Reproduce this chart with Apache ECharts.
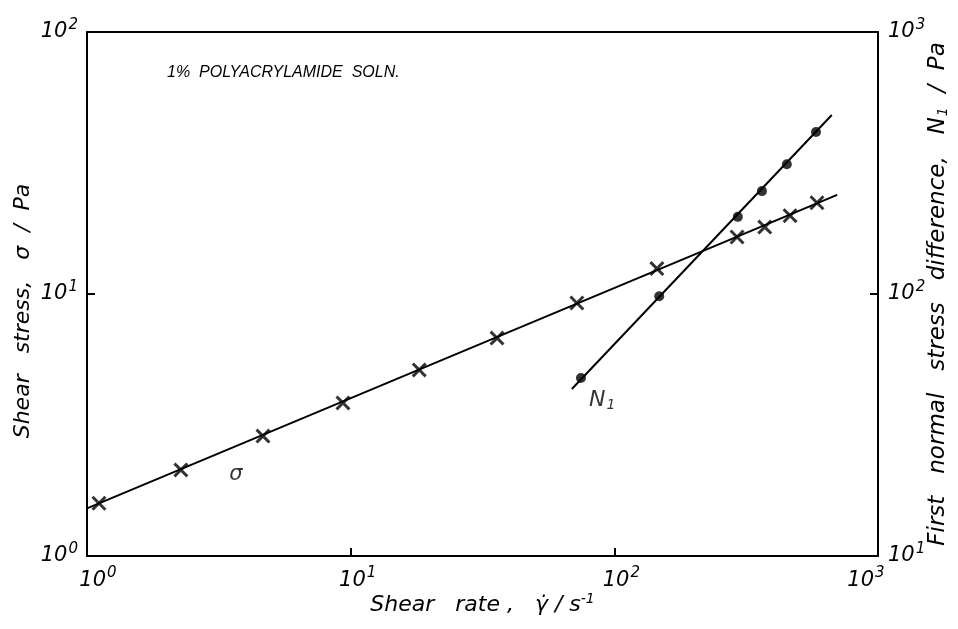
<!DOCTYPE html>
<html>
<head>
<meta charset="utf-8">
<script src="https://cdn.jsdelivr.net/npm/echarts@6/dist/echarts.min.js"></script>
<style>html,body{margin:0;padding:0;background:#fff}#c{width:958px;height:629px}</style>
</head>
<body>
<div id="c"></div>
<script>
// Shear stress data (crosses)
var sigmaRate = [1.11, 2.27, 4.65, 9.35, 18.2, 35.9, 72.1, 145, 292, 372, 464, 587];
var sigmaVal  = [1.59, 2.13, 2.87, 3.84, 5.13, 6.79, 9.24, 12.5, 16.5, 18.0, 19.9, 22.3];
// First normal stress difference data (dots)
var n1Rate = [74.7, 148, 294, 363, 451, 582];
var n1Val  = [47.8, 98, 197, 247, 313, 415];
// Fitted lines
var sigmaFitRate = [1, 700];
var sigmaFitVal  = [1.52, 23.9];
var n1FitRate = [69, 668];
var n1FitVal  = [43.4, 482];
// Axis ranges
var xRange = [1, 1000];
var yLeftRange = [1, 100];
var yRightRange = [10, 1000];
// Annotation anchors (data coordinates)
var sigmaLabelAt = [3.67, 2.04];
var n1LabelAt = [90, 39.4];

var FONT = 'DejaVu Sans';
function pow10Label(v) {
  var e = Math.round(Math.log10(v));
  return '{a|10}{s|' + e + '}';
}
function pow10LabelX(v) {
  var e = Math.round(Math.log10(v));
  if (e === 0) return '{a0|10}{s|' + e + '}';
  if (e === 3) return '{a|10}{s3|' + e + '}';
  return '{a1|10}{s|' + e + '}';
}
var base = {fontStyle: 'italic', fontFamily: FONT, color: '#000'};
function st(o) { return Object.assign({}, base, o); }
var richPow = {
  a: st({fontSize: 21}),
  a0: st({fontSize: 21, padding: [0, 0, 0, 22]}),
  a1: st({fontSize: 21, padding: [0, 0, 0, 14]}),
  s: st({fontSize: 15, padding: [0, 0, 14, 1]}),
  s3: st({fontSize: 15, padding: [0, 24, 14, 1]})
};
function zip(a, b) { return a.map(function (v, i) { return [v, b[i]]; }); }
var xSym = 'path://M0,1.4L1.4,0L5,3.6L8.6,0L10,1.4L6.4,5L10,8.6L8.6,10L5,6.4L1.4,10L0,8.6L3.6,5Z';
var nameStyle = st({fontSize: 22});

var chart = echarts.init(document.getElementById('c'), null, {renderer: 'canvas'});
chart.setOption({
  animation: false,
  backgroundColor: '#fff',
  title: {
    text: '1%  POLYACRYLAMIDE  SOLN.',
    left: 162, top: 60,
    textStyle: {fontSize: 16, fontStyle: 'italic', fontWeight: 'normal', fontFamily: 'Liberation Sans', color: '#000'}
  },
  grid: {left: 87, right: 80, top: 32, bottom: 73, outerBoundsMode: 'none', containLabel: false},
  xAxis: [{
    type: 'log', logBase: 10, min: xRange[0], max: xRange[1],
    axisLine: {show: true, lineStyle: {color: '#000', width: 2}},
    axisTick: {show: true, inside: true, length: 8, lineStyle: {color: '#000', width: 2}},
    splitLine: {show: false},
    axisLabel: {formatter: pow10LabelX, rich: richPow, margin: 10, showMinLabel: true, showMaxLabel: true},
    name: '{t|Shear   rate ,   γ̇ / s}{s|-1}',
    nameLocation: 'middle', nameGap: 36, nameMoveOverlap: false,
    nameTextStyle: {rich: {
      t: nameStyle,
      s: st({fontSize: 14, padding: [0, 0, 12, 0]})
    }}
  }, {
    type: 'log', logBase: 10, min: xRange[0], max: xRange[1], position: 'top',
    axisLine: {show: true, lineStyle: {color: '#000', width: 2}},
    axisTick: {show: false}, axisLabel: {show: false}, splitLine: {show: false}
  }],
  yAxis: [{
    type: 'log', logBase: 10, min: yLeftRange[0], max: yLeftRange[1],
    axisLine: {show: true, lineStyle: {color: '#000', width: 2}},
    axisTick: {show: true, inside: true, length: 8, lineStyle: {color: '#000', width: 2}},
    splitLine: {show: false},
    axisLabel: {formatter: pow10Label, rich: richPow, margin: 9},
    name: 'Shear   stress,   σ  /  Pa', nameLocation: 'middle', nameGap: 53, nameRotate: 90, nameMoveOverlap: false,
    nameTextStyle: Object.assign({}, nameStyle, {padding: [0, 34, 0, 0]})
  }, {
    type: 'log', logBase: 10, min: yRightRange[0], max: yRightRange[1], position: 'right',
    axisLine: {show: true, lineStyle: {color: '#000', width: 2}},
    axisTick: {show: true, inside: true, length: 8, lineStyle: {color: '#000', width: 2}},
    splitLine: {show: false},
    axisLabel: {formatter: pow10Label, rich: richPow, margin: 10},
    name: '{t|First   normal   stress   difference,   N}{b|1}{t|  /  Pa}', nameLocation: 'middle', nameGap: 49, nameRotate: 90, nameMoveOverlap: false,
    nameTextStyle: {rich: {
      t: st({fontSize: 23}),
      b: st({fontSize: 14, padding: [9, 0, 0, 1]})
    }}
  }],
  series: [{
    type: 'line', xAxisIndex: 0, yAxisIndex: 0, data: zip(sigmaFitRate, sigmaFitVal),
    symbol: 'none', lineStyle: {color: '#000', width: 2}, silent: true
  }, {
    type: 'line', xAxisIndex: 0, yAxisIndex: 1, data: zip(n1FitRate, n1FitVal),
    symbol: 'none', lineStyle: {color: '#000', width: 2}, silent: true
  }, {
    type: 'scatter', xAxisIndex: 0, yAxisIndex: 0, data: zip(sigmaRate, sigmaVal),
    symbol: xSym, symbolSize: 15, itemStyle: {color: '#000'}
  }, {
    type: 'scatter', xAxisIndex: 0, yAxisIndex: 1, data: zip(n1Rate, n1Val),
    symbol: 'circle', symbolSize: 10, itemStyle: {color: '#000'}
  }, {
    type: 'scatter', xAxisIndex: 0, yAxisIndex: 0, data: [sigmaLabelAt],
    symbol: 'circle', symbolSize: 1, itemStyle: {color: 'rgba(0,0,0,0)'}, silent: true,
    label: {show: true, position: 'inside', formatter: 'σ', fontSize: 21, fontStyle: 'italic', fontFamily: FONT, color: '#000'}
  }, {
    type: 'scatter', xAxisIndex: 0, yAxisIndex: 1, data: [n1LabelAt],
    symbol: 'circle', symbolSize: 1, itemStyle: {color: 'rgba(0,0,0,0)'}, silent: true,
    label: {show: true, position: 'inside', formatter: '{t|N}{b|1}',
      rich: {
        t: st({fontSize: 22}),
        b: st({fontSize: 14, padding: [10, 0, 0, 1]})
      }}
  }]
});
</script>
</body>
</html>
